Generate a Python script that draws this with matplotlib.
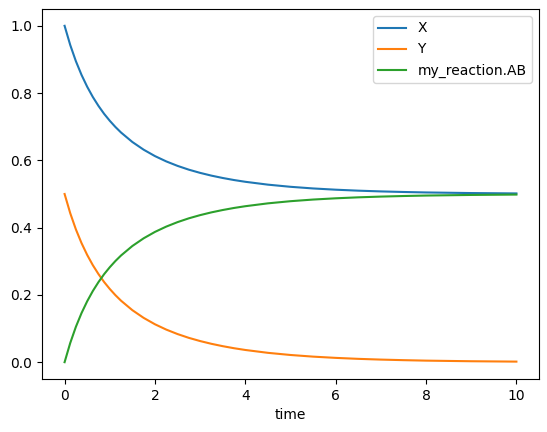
import matplotlib
matplotlib.use("Agg")
import matplotlib.pyplot as plt

time = [0, 0.125, 0.25, 0.375, 0.5, 0.625, 0.75, 0.875, 1, 1.125, 1.25, 1.5,
        1.75, 2, 2.25, 2.5, 2.75, 3, 3.25, 3.5, 3.75, 4, 4.5, 5, 5.5, 6, 6.5,
        7, 7.5, 8, 9, 10]
Y = [0.5, 0.4429, 0.3948, 0.3540, 0.3189, 0.2884, 0.2619, 0.2383, 0.2177,
     0.1992, 0.1827, 0.1546, 0.1317, 0.1127, 0.0969, 0.0836, 0.0723, 0.0628,
     0.0546, 0.0476, 0.0415, 0.0363, 0.0278, 0.0214, 0.0165, 0.0128, 0.0099,
     0.0077, 0.0060, 0.0046, 0.0028, 0.0017]
X = [1.0, 0.9429, 0.8948, 0.8540, 0.8189, 0.7884, 0.7619, 0.7383, 0.7177,
     0.6992, 0.6827, 0.6546, 0.6317, 0.6127, 0.5969, 0.5836, 0.5723, 0.5628,
     0.5546, 0.5476, 0.5415, 0.5363, 0.5278, 0.5214, 0.5165, 0.5128, 0.5099,
     0.5077, 0.5060, 0.5046, 0.5028, 0.5017]
AB = [0.0, 0.0571, 0.1052, 0.1460, 0.1811, 0.2116, 0.2381, 0.2617, 0.2823,
      0.3008, 0.3173, 0.3454, 0.3683, 0.3873, 0.4031, 0.4164, 0.4277, 0.4372,
      0.4454, 0.4524, 0.4585, 0.4637, 0.4722, 0.4786, 0.4835, 0.4872, 0.4901,
      0.4923, 0.4940, 0.4954, 0.4972, 0.4983]

fig = plt.figure(figsize=(5.47, 4.32), dpi=100)
ax = fig.add_axes([42/547, 53/432, 497/547, 370/432])
ax.plot(time, X, label="X")
ax.plot(time, Y, label="Y")
ax.plot(time, AB, label="my_reaction.AB")
ax.set_xlabel("time")
ax.legend()
fig.savefig("out.png", dpi=100)
